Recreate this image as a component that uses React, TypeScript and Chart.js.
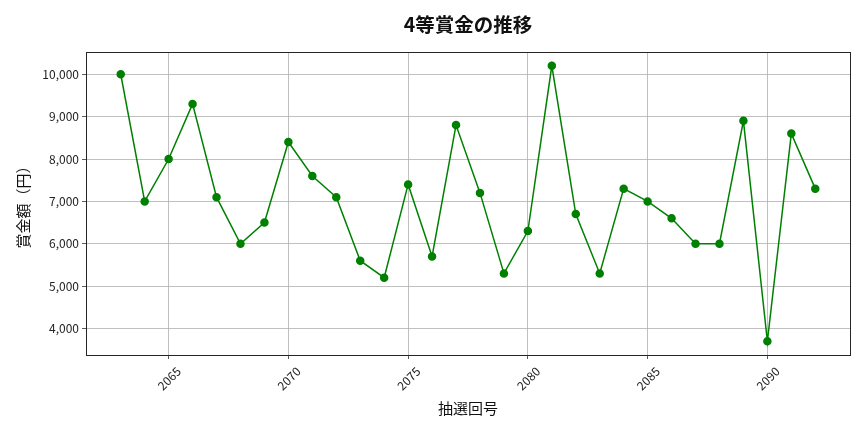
import React, { useEffect, useRef } from "react";
import { Chart, registerables } from "chart.js";

Chart.register(...registerables);

const drawNumbers = [2063, 2064, 2065, 2066, 2067, 2068, 2069, 2070, 2071, 2072, 2073, 2074, 2075, 2076, 2077, 2078, 2079, 2080, 2081, 2082, 2083, 2084, 2085, 2086, 2087, 2088, 2089, 2090, 2091, 2092];
const prizeValues = [10000, 7000, 8000, 9300, 7100, 6000, 6500, 8400, 7600, 7100, 5600, 5200, 7400, 5700, 8800, 7200, 5300, 6300, 10200, 6700, 5300, 7300, 7000, 6600, 6000, 6000, 8900, 3700, 8600, 7300];
const xTicks = [2065, 2070, 2075, 2080, 2085, 2090];
const yTicks = [4000, 5000, 6000, 7000, 8000, 9000, 10000];
const titleText = "4等賞金の推移";
const xLabel = "抽選回号";
const yLabel = "賞金額（円）";

const FONT = "'Noto Sans CJK JP', 'Noto Sans', sans-serif";

export default function App() {
  const ref = useRef<HTMLCanvasElement | null>(null);

  useEffect(() => {
    document.body.style.margin = "0";
    const canvas = ref.current;
    if (!canvas) return;

    const xMin = drawNumbers[0];
    const xMax = drawNumbers[drawNumbers.length - 1];
    const xPad = (xMax - xMin) * 0.05;
    const yMinV = Math.min(...prizeValues);
    const yMaxV = Math.max(...prizeValues);
    const yPad = (yMaxV - yMinV) * 0.05;

    const framePlugin = {
      id: "frameAndTitle",
      afterDraw(chart: any) {
        const { ctx, chartArea } = chart;
        ctx.save();
        ctx.strokeStyle = "#262626";
        ctx.lineWidth = 1;
        ctx.strokeRect(
          Math.round(chartArea.left) + 0.5,
          Math.round(chartArea.top) + 0.5,
          Math.round(chartArea.right - chartArea.left),
          Math.round(chartArea.bottom - chartArea.top)
        );
        ctx.fillStyle = "#111";
        ctx.font = `bold 19.5px ${FONT}`;
        ctx.textAlign = "center";
        ctx.textBaseline = "middle";
        ctx.fillText(titleText, (chartArea.left + chartArea.right) / 2, 25);
        ctx.restore();
      },
    };

    const chart = new Chart(canvas, {
      type: "line",
      data: {
        datasets: [
          {
            data: drawNumbers.map((x, i) => ({ x, y: prizeValues[i] })),
            borderColor: "#008000",
            backgroundColor: "#008000",
            borderWidth: 1.5,
            pointRadius: 3.5,
            pointHoverRadius: 3.5,
            pointBackgroundColor: "#008000",
            pointBorderColor: "#008000",
            tension: 0,
          },
        ],
      },
      options: {
        animation: false,
        responsive: false,
        devicePixelRatio: 1,
        layout: { padding: { top: 52, right: 14, left: 0, bottom: 0 } },
        plugins: {
          legend: { display: false },
          title: { display: false },
          tooltip: { enabled: false },
        },
        scales: {
          x: {
            type: "linear",
            min: xMin - xPad,
            max: xMax + xPad,
            afterBuildTicks: (scale: any) => {
              scale.ticks = xTicks.map((v) => ({ value: v }));
            },
            afterFit: (scale: any) => {
              scale.height = 77;
              scale.paddingLeft = 0;
              scale.paddingRight = 0;
            },
            ticks: {
              autoSkip: false,
              minRotation: 45,
              maxRotation: 45,
              padding: 5,
              labelOffset: 10,
              color: "#222",
              font: { family: FONT, size: 12 },
              callback: (v: any) => String(v),
            },
            grid: {
              color: "#b0b0b0",
              lineWidth: 0.8,
              tickLength: 4,
              tickColor: "#333",
              drawTicks: true,
            },
            border: { display: false },
            title: {
              display: true,
              text: xLabel,
              color: "#111",
              font: { family: FONT, size: 15 },
              padding: { top: 0, bottom: 15 },
            },
          },
          y: {
            type: "linear",
            min: yMinV - yPad,
            max: yMaxV + yPad,
            afterBuildTicks: (scale: any) => {
              scale.ticks = yTicks.map((v) => ({ value: v }));
            },
            afterFit: (scale: any) => {
              scale.width = 86;
              scale.paddingTop = 0;
              scale.paddingBottom = 0;
            },
            ticks: {
              padding: 3,
              color: "#222",
              font: { family: FONT, size: 12 },
              callback: (v: any) => Number(v).toLocaleString("en-US"),
            },
            grid: {
              color: "#b0b0b0",
              lineWidth: 0.8,
              tickLength: 4,
              tickColor: "#333",
              drawTicks: true,
            },
            border: { display: false },
            title: {
              display: true,
              text: yLabel,
              color: "#111",
              font: { family: FONT, size: 15 },
              padding: { top: 14, bottom: 0 },
            },
          },
        },
      },
      plugins: [framePlugin],
    } as any);

    return () => chart.destroy();
  }, []);

  return (
    <div style={{ position: "absolute", left: 0, top: 0, width: 864, height: 432, background: "#fff" }}>
      <canvas ref={ref} width={864} height={432} style={{ width: 864, height: 432, display: "block" }} />
    </div>
  );
}
